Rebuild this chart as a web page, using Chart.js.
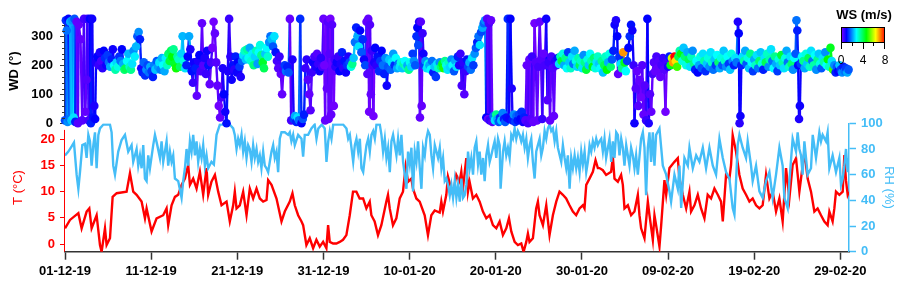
<!DOCTYPE html>
<html lang="en">
<head>
<meta charset="UTF-8">
<title>WD / WS / T / RH</title>
<style>
  body { margin: 0; background: #fff; }
  #wrap { position: relative; width: 906px; height: 287px; }
  #wrap canvas { position: absolute; left: 0; top: 0; }
</style>
</head>
<body>
<div id="wrap">
  <canvas id="metChart" width="906" height="287"></canvas>
  <canvas id="wdChart" width="906" height="140"></canvas>
</div>
<script src="https://cdn.jsdelivr.net/npm/chart.js"></script>
<script>
// x values are days since 01-12-19 00:00
var xTickDays = [0, 10, 20, 30, 40, 50, 60, 70, 80, 90];
var xTickLabels = ['01-12-19', '11-12-19', '21-12-19', '31-12-19', '10-01-20', '20-01-20', '30-01-20', '09-02-20', '19-02-20', '29-02-20'];
var wdTicks = [0, 100, 200, 300];
var tTicks = [0, 5, 10, 15, 20];
var rhTicks = [0, 20, 40, 60, 80, 100];
var wsTicks = [0, 4, 8];

// temperature (°C)
var tDay = [0, 0.58, 1.55, 1.93, 2.51, 2.82, 3.09, 3.67, 4.06, 4.25, 4.64, 4.83, 5.22, 5.53, 6.0, 7.15, 7.54, 7.92, 8.31, 8.89, 9.28, 9.47, 10.05, 10.63, 11.4, 11.79, 11.98, 12.37, 12.76, 13.14, 13.53, 13.92, 14.3, 14.5, 14.88, 15.27, 15.66, 16.04, 16.43, 16.62, 17.0, 17.4, 17.78, 18.17, 18.75, 19.13, 19.52, 19.71, 19.91, 20.29, 20.68, 21.07, 21.45, 21.84, 22.23, 22.61, 23.0, 23.39, 23.58, 23.97, 24.55, 25.13, 25.51, 26.09, 26.4, 26.67, 27.06, 27.45,
  27.64, 28.02, 28.41, 28.8, 29.18, 29.57, 29.96, 30.34, 30.54, 30.73, 31.12, 31.5, 31.89, 32.27, 32.66, 33.05, 33.43, 33.82, 34.2, 34.6, 34.98, 35.37, 35.56, 35.94, 36.33, 36.72, 37.3, 37.49, 37.69, 38.07, 38.46, 38.85, 39.23, 39.54, 39.82, 40.2, 40.39, 40.78, 41.17, 41.75, 42.13, 42.52, 42.91, 43.49, 43.68, 43.87, 44.26, 44.45, 45.03, 45.42, 45.8, 46.0, 46.19, 46.58, 46.77, 46.96, 47.35, 47.74, 48.13, 48.51, 48.9, 49.29, 49.67, 50.06, 50.45, 50.83, 51.22, 51.53, 51.8, 52.19, 52.57, 52.96, 53.23, 53.54, 53.73, 53.92, 54.31, 54.69, 54.89, 55.08, 55.47, 55.86, 56.24, 56.63, 57.02, 57.4, 57.79, 58.17, 58.56, 58.95, 59.33, 59.72, 60.11, 60.3, 60.5, 60.88, 61.27, 61.58, 61.85,
  62.04, 62.43, 62.81, 63.39, 63.59, 63.78, 64.17, 64.55, 64.75, 64.94, 65.33, 65.71, 66.1, 66.49, 66.68, 66.87, 67.26, 67.65, 67.84, 68.23, 68.42, 68.61, 69.0, 69.2, 69.58, 69.78, 70.16, 70.74, 71.13, 71.32, 71.71, 72.1, 72.48, 72.67, 73.06, 73.45, 73.83, 74.22, 74.6, 74.99, 75.38, 75.77, 76.15, 76.35, 76.73, 77.12, 77.31, 77.5, 77.89, 78.28, 78.66, 79.05, 79.44, 79.82, 80.21, 80.6, 80.98, 81.37, 81.76, 82.14, 82.53, 82.92, 83.3, 83.69, 84.08, 84.46, 84.85, 85.24, 85.82, 86.2, 86.59, 86.98, 87.36, 87.75, 88.14, 88.52, 88.72, 89.1, 89.3, 89.49, 89.88, 90.27, 90.46, 90.65, 90.85, 91.0];
var tVal = [3.0, 4.6, 5.9, 3.0, 6.2, 6.8, 3.0, 5.5, -0.2, -1.5, 3.0, -0.2, 1.1, 9.0, 9.7, 10.0, 13.5, 10.0, 9.4, 8.1, 4.9, 6.8, 2.4, 4.9, 5.5, 6.8, 3.6, 7.4, 9.0, 9.4, 11.3, 12.5, 15.1, 11.3, 12.5, 10.6, 13.8, 9.4, 14.5, 9.4, 11.9, 13.2, 10.0, 7.4, 8.1, 4.3, 7.4, 10.0, 6.8, 7.4, 10.0, 5.5, 10.6, 8.7, 10.6, 8.7, 8.1, 8.4, 12.2, 11.3, 8.7, 4.3, 6.2, 8.1, 9.7, 7.4, 5.5, 4.3,
  3.6, -0.2, 1.1, -0.8, 0.8, -0.5, 0.4, -0.8, 3.6, 0.4, 0.1, 0.1, 0.4, 0.8, 1.7, 5.5, 10.0, 10.0, 8.7, 8.7, 6.8, 8.1, 5.5, 4.3, 1.7, 3.6, 8.1, 9.4, 6.8, 3.6, 4.9, 8.7, 10.0, 14.8, 11.9, 12.5, 10.6, 8.7, 8.1, 5.5, 1.7, 5.5, 6.4, 6.0, 8.1, 6.2, 9.4, 12.9, 9.4, 13.2, 11.9, 13.8, 10.6, 16.4, 10.0, 11.9, 8.7, 9.4, 8.1, 6.2, 4.9, 5.5, 3.6, 3.0, 4.3, 1.7, 3.0, 4.9, 2.4, 0.4, -0.2, 0.1, -1.5, 0.4, 2.0, 0.4, 1.1, 6.8, 8.1, 5.5, 3.6, 7.4, 1.7, 5.5, 8.1, 10.0, 9.4, 8.7, 7.4, 6.2, 5.5, 6.8, 7.4, 6.8, 11.3, 12.5, 13.8, 16.0, 14.5,
  14.5, 14.1, 13.2, 13.8, 16.7, 12.5, 11.9, 13.2, 11.3, 6.8, 7.4, 5.5, 6.2, 9.4, 5.5, 3.0, 1.1, 8.1, 5.5, 0.8, 5.5, 3.6, -0.5, 3.6, 12.2, 9.4, 14.5, 15.7, 16.4, 12.5, 9.4, 6.8, 10.0, 6.2, 7.4, 9.4, 6.8, 4.9, 9.4, 8.7, 10.6, 9.4, 8.1, 4.3, 13.2, 12.5, 15.1, 20.8, 17.6, 13.2, 10.6, 9.4, 8.1, 8.7, 7.4, 6.8, 7.4, 13.2, 8.7, 10.0, 6.2, 8.7, 4.3, 14.5, 8.7, 15.1, 16.4, 10.0, 17.6, 12.5, 10.0, 6.2, 6.8, 5.5, 4.3, 3.6, 6.2, 4.3, 6.8, 10.0, 9.4, 10.0, 17.0, 12.1, 9.4, 10.0];

// relative humidity (%)
var rhDay = [0, 0.39, 0.77, 1.04, 1.35, 1.55, 1.74, 2.01, 2.32, 2.51, 2.71, 2.9, 3.09, 3.29, 3.48, 3.67, 3.87, 4.06, 4.45, 5.22, 5.41, 5.6, 5.8, 6.18, 6.57, 6.96, 7.34, 7.73, 7.92, 8.31, 8.5, 8.7, 8.89, 9.08, 9.28, 9.47, 9.66, 9.86, 10.24, 10.44, 10.71, 11.02, 11.21, 11.4, 11.79, 11.98, 12.18, 12.37, 12.56, 12.76, 13.14, 13.53, 13.72, 13.92, 14.11, 14.3, 14.5, 14.69, 14.88, 15.08, 15.27, 15.46, 15.66, 15.85, 16.04, 16.24, 16.43, 16.62, 17.0, 17.28, 17.59, 17.97, 19.13, 19.52, 19.71, 19.91, 20.1, 20.29, 20.49, 20.68, 20.87, 21.07, 21.26, 21.45, 21.65, 21.84, 22.03, 22.23, 22.42, 22.61, 22.8, 23.0, 23.19, 23.39, 23.58, 23.77, 23.97, 24.16, 24.35, 24.55, 24.74, 24.93, 25.13, 25.51, 25.9, 26.09, 26.28, 26.48, 26.67, 27.06, 27.45, 27.64, 27.83, 28.22, 28.6, 28.98, 29.19, 29.4, 29.8, 30.15, 30.35, 30.55,
  30.74, 30.93, 31.13, 32.29, 32.67, 32.87, 33.06, 33.25, 33.45, 33.64, 33.83, 34.03, 34.22, 34.41, 34.61, 34.8, 34.99, 35.19, 35.38, 35.57, 35.77, 35.96, 36.15, 36.54, 36.73, 36.92, 37.12, 37.31, 37.5, 37.7, 37.89, 38.08, 38.28, 38.47, 38.66, 38.86, 39.05, 39.24, 39.44, 39.63, 39.82, 40.02, 40.21, 40.4, 40.6, 40.79, 40.98, 41.18, 41.37, 41.56, 41.76, 41.95, 42.14, 42.34, 42.53, 42.72, 42.92, 43.11, 43.3, 43.5, 43.69, 43.88, 44.08, 44.27, 44.46, 44.66, 44.85, 45.04, 45.24, 45.43, 45.62, 45.82, 46.01, 46.2, 46.39, 46.59, 46.78, 46.97, 47.16, 47.36, 47.55, 47.74, 47.94, 48.13, 48.32, 48.52, 48.71, 48.9, 49.1, 49.29, 49.48, 49.68, 49.87, 50.06, 50.26, 50.45, 50.56, 50.84, 51.03, 51.22, 51.41, 51.61, 51.8, 51.99, 52.19, 52.38, 52.57, 52.77, 52.96, 53.15, 53.35, 53.54, 53.73, 53.93, 54.12, 54.31, 54.51, 54.7, 54.89, 55.09, 55.28, 55.47, 55.67, 55.86, 56.05, 56.25, 56.44, 56.63, 56.83, 57.02, 57.21, 57.6, 57.79, 57.99, 58.18, 58.37, 58.57, 58.76, 58.95, 59.15, 59.34, 59.53, 59.73, 59.92, 60.11, 60.31, 60.5, 60.69, 60.89, 61.08, 61.27, 61.46, 61.66, 61.85,
  62.04, 62.24, 62.43, 62.62, 62.81, 63.2, 63.4, 63.59, 63.78, 63.98, 64.17, 64.36, 64.56, 64.75, 64.94, 65.14, 65.33, 65.52, 65.71, 65.91, 66.1, 66.29, 66.49, 66.87, 67.07, 67.26, 67.45, 67.65, 67.84, 68.03, 68.23, 68.42, 68.61, 69.0, 69.2, 69.39, 69.78, 70.16, 70.35, 70.74, 71.13, 71.32, 71.52, 71.9, 72.29, 72.48, 72.87, 73.26, 73.64, 74.03, 74.41, 74.8, 75.19, 75.57, 75.96, 76.35, 76.73, 77.12, 77.5, 77.7, 77.89, 78.08, 78.28, 78.66, 79.05, 79.24, 79.63, 79.82, 80.21, 80.6, 80.98, 81.37, 81.76, 82.14, 82.53, 82.92, 83.3, 83.5, 83.88, 84.08, 84.46, 84.85, 85.04, 85.24, 85.43, 85.62, 85.82, 86.2, 86.59, 86.79, 87.17, 87.56, 87.75, 87.94, 88.33, 88.52, 88.72, 89.1, 89.49, 89.88, 90.07, 90.27, 90.46, 90.65, 90.85, 91.0];
var rhVal = [75, 78, 82, 85, 60, 49, 62, 83, 84, 73, 91, 86, 67, 83, 93, 65, 91, 96, 99, 99, 93, 67, 60, 78, 87, 91, 78, 83, 70, 80, 67, 75, 65, 83, 57, 55, 75, 65, 83, 91, 83, 73, 86, 70, 86, 67, 78, 70, 75, 57, 55, 42, 55, 65, 80, 67, 86, 78, 91, 75, 86, 70, 80, 73, 83, 67, 75, 65, 70, 68, 91, 99, 99, 96, 91, 80, 88, 83, 91, 78, 86, 73, 83, 80, 70, 83, 73, 80, 70, 75, 65, 78, 67, 65, 62, 70, 78, 83, 73, 78, 62, 88, 93, 93, 91, 93, 86, 91, 83, 91, 88, 74, 91, 91, 96, 99, 88, 96, 99, 96, 70, 86,
  94, 88, 99, 99, 96, 88, 91, 81, 70, 83, 88, 78, 88, 65, 62, 73, 83, 88, 78, 91, 94, 88, 99, 99, 91, 78, 88, 73, 81, 62, 86, 91, 83, 75, 88, 75, 91, 70, 60, 49, 78, 68, 81, 47, 78, 70, 86, 65, 49, 81, 75, 88, 94, 91, 75, 65, 83, 78, 73, 81, 65, 73, 55, 57, 52, 44, 52, 42, 55, 42, 52, 39, 57, 42, 44, 52, 78, 65, 73, 60, 81, 86, 68, 78, 60, 73, 55, 75, 83, 70, 75, 81, 86, 73, 88, 83, 49, 78, 86, 75, 81, 73, 91, 88, 96, 88, 94, 91, 86, 91, 81, 88, 73, 83, 88, 70, 57, 78, 83, 88, 75, 81, 94, 88, 96, 99, 94, 96, 86, 94, 81, 70, 83, 73, 65, 75, 49, 73, 65, 75, 65, 73, 62, 78, 68, 78, 62, 70, 83, 78, 86, 81, 88, 83,
  86, 88, 78, 88, 73, 88, 70, 86, 73, 93, 91, 75, 88, 81, 67, 83, 75, 67, 81, 75, 65, 75, 60, 88, 93, 81, 44, 81, 93, 70, 93, 67, 91, 96, 81, 67, 60, 47, 39, 60, 49, 67, 34, 73, 67, 81, 65, 75, 70, 81, 65, 81, 67, 60, 88, 73, 62, 57, 34, 29, 55, 83, 91, 81, 73, 86, 67, 55, 67, 47, 42, 55, 62, 42, 60, 81, 67, 42, 34, 55, 88, 78, 93, 80, 75, 60, 86, 60, 65, 91, 73, 93, 86, 91, 86, 93, 65, 75, 62, 73, 52, 57, 67, 80, 62, 73];

// wind direction (°) and wind speed (m/s), one entry per plotted point
var wdDay = [0.0, 0.1, 0.2, 0.3, 0.4, 0.5, 0.6, 0.75, 0.85, 1.0, 1.1, 1.2,
  1.35, 1.5, 1.6, 1.8, 2.0, 2.2, 2.35, 2.5, 2.6, 2.75,
  2.9, 3.0, 3.15, 3.3, 3.4, 3.5, 3.6,
  3.75, 3.9, 4.05, 4.2, 4.35, 4.5, 4.65, 4.8, 4.95, 5.1, 5.25, 5.4, 5.55,
  5.7, 5.85, 6.0, 6.15, 6.3, 6.45, 6.6, 6.75, 6.9, 7.05, 7.2, 7.35, 7.5, 7.65, 7.8, 7.95, 8.1, 8.25, 8.4, 8.55, 8.7,
  8.85, 9.0, 9.15, 9.3, 9.45, 9.6, 9.75, 9.9, 10.05, 10.2, 10.35, 10.5, 10.65, 10.8, 10.95, 11.1, 11.25, 11.4, 11.55, 11.7,
  11.85, 12.0, 12.15, 12.3, 12.45, 12.6, 12.75, 12.9, 13.05, 13.2, 13.35, 13.5, 13.65, 13.8, 13.95,
  14.1, 14.25, 14.4, 14.55, 14.7, 14.85, 15.0, 15.15, 15.3, 15.45, 15.6, 15.75, 15.9, 16.05, 16.2, 16.35, 16.5, 16.65, 16.8, 16.95, 17.1, 17.25, 17.4, 17.55, 17.7, 17.85, 18.0, 18.15, 18.3, 18.45, 18.6, 18.75, 18.9, 19.05, 19.2, 19.35, 19.5, 19.65, 19.8, 19.95, 20.1, 20.25, 20.4, 20.55,
  20.7, 20.85, 21.0, 21.15, 21.3, 21.45, 21.6, 21.75, 21.9, 22.05, 22.2, 22.35, 22.5, 22.65, 22.8, 22.95, 23.1, 23.25, 23.4, 23.55, 23.7, 23.85, 24.0, 24.15, 24.3, 24.45,
  24.6, 24.75, 24.9, 25.05, 25.2, 25.35, 25.5, 25.65, 25.8, 25.95, 26.1, 26.25,
  26.4, 26.55, 26.7, 26.85, 27.0, 27.15, 27.3, 27.45, 27.6, 27.75, 27.9,
  28.05, 28.2, 28.35, 28.5, 28.65, 28.8, 28.95, 29.1, 29.25, 29.4, 29.55, 29.7, 29.85,
  30.0, 30.1, 30.2, 30.3, 30.4, 30.5, 30.6, 30.7, 30.8, 30.9, 31.0, 31.1, 31.2, 31.3, 31.4,
  31.55, 31.7, 31.85, 32.0, 32.15, 32.3, 32.45, 32.6, 32.75, 32.9, 33.05,
  33.2, 33.35, 33.5, 33.65, 33.8, 33.95, 34.1, 34.25, 34.4, 34.55, 34.7, 34.85,
  35.0, 35.1, 35.2, 35.3, 35.4, 35.5, 35.6, 35.7, 35.8, 35.9, 36.0, 36.15, 36.3, 36.45,
  36.6, 36.75, 36.9, 37.05, 37.2, 37.35, 37.5, 37.65, 37.8, 37.95, 38.1, 38.25, 38.4, 38.55, 38.7,
  38.85, 39.0, 39.15, 39.3, 39.45, 39.6, 39.75, 39.9, 40.05, 40.2, 40.35, 40.5, 40.65,
  40.8, 40.9, 41.0, 41.1, 41.2, 41.3, 41.4, 41.5, 41.6, 41.7, 41.85, 42.0, 42.15,
  42.3, 42.45, 42.6, 42.75, 42.9, 43.05, 43.2, 43.35, 43.5, 43.65, 43.8, 43.95, 44.1, 44.25, 44.4, 44.55, 44.7, 44.85, 45.0, 45.15, 45.3, 45.45, 45.6,
  45.75, 45.9, 46.05, 46.2, 46.35, 46.5, 46.65, 46.8,
  46.95, 47.1, 47.25, 47.4, 47.55, 47.7, 47.85, 48.0, 48.15, 48.3, 48.45, 48.6, 48.75,
  48.9, 49.0, 49.1, 49.2, 49.3, 49.45, 49.6, 49.75, 49.9, 50.05, 50.2, 50.35, 50.5, 50.65, 50.8, 50.95, 51.1, 51.25, 51.4, 51.55, 51.7, 51.85, 51.95, 52.1, 52.25, 52.4, 52.55, 52.7, 52.85, 53.0, 53.15, 53.3,
  53.45, 53.6, 53.75, 53.9, 54.05, 54.2, 54.35, 54.5, 54.65, 54.8, 54.95, 55.1, 55.25, 55.4, 55.55, 55.7, 55.85, 56.0, 56.15, 56.3, 56.45, 56.6, 56.75, 56.9, 57.05, 57.2,
  57.35, 57.5, 57.65, 57.8, 57.95, 58.1, 58.25, 58.4, 58.55, 58.7, 58.85, 59.0, 59.15, 59.3, 59.45, 59.6, 59.75, 59.9, 60.05, 60.2, 60.35, 60.5, 60.65, 60.8, 60.95, 61.1, 61.25, 61.4, 61.55, 61.7, 61.85, 62.0,
  62.15, 62.3, 62.45, 62.6, 62.75, 62.9, 63.05, 63.2, 63.35, 63.5, 63.65, 63.8, 63.95, 64.1, 64.2, 64.35, 64.5, 64.65, 64.8, 64.95, 65.1,
  65.25, 65.4, 65.55, 65.7, 65.85, 66.0, 66.1, 66.25, 66.4, 66.55, 66.7, 66.85, 67.0, 67.15, 67.3, 67.45, 67.6, 67.75, 67.9, 68.05, 68.2,
  68.35, 68.5, 68.65, 68.8, 68.95, 69.1, 69.25, 69.4, 69.55, 69.7, 69.85, 70.0, 70.15,
  70.3, 70.45, 70.6, 70.75, 70.9, 71.05, 71.2,
  71.35, 71.5, 71.65, 71.8, 71.95, 72.1, 72.25, 72.4, 72.55, 72.7, 72.85, 73.0, 73.15, 73.3, 73.45, 73.6, 73.75, 73.9, 74.05, 74.2, 74.35, 74.5, 74.65, 74.8, 74.95, 75.1, 75.25, 75.4, 75.55, 75.7, 75.85, 76.0, 76.15, 76.3, 76.45, 76.6, 76.75, 76.9, 77.05, 77.2, 77.35, 77.5, 77.65, 77.8, 77.95,
  78.1, 78.2, 78.3, 78.4, 78.5,
  78.65, 78.8, 78.95, 79.1, 79.25, 79.4, 79.55, 79.7, 79.85, 80.0, 80.15, 80.3, 80.45, 80.6, 80.75, 80.9, 81.05, 81.2, 81.35, 81.5, 81.65, 81.8, 81.95, 82.1, 82.25, 82.4, 82.55, 82.7, 82.85, 83.0, 83.15, 83.3, 83.45, 83.6, 83.75, 83.9, 84.05, 84.2, 84.35, 84.5, 84.65, 84.8,
  84.9, 85.0, 85.1, 85.2, 85.3, 85.4,
  85.55, 85.7, 85.85, 86.0, 86.15, 86.3, 86.45, 86.6, 86.75, 86.9, 87.05, 87.2, 87.35, 87.5, 87.65, 87.8, 87.95, 88.1, 88.25, 88.4, 88.55, 88.7, 88.85, 89.0,
  89.15, 89.3, 89.45, 89.6, 89.75, 89.9, 90.05, 90.2, 90.35, 90.5, 90.65, 90.8, 90.95];
var wdDeg = [10, 355, 320, 5, 360, 15, 350, 10, 355, 20, 360, 5,
  350, 0, 340, 290, 10, 360, 40, 150, 360, 10,
  360, 0, 360, 20, 60, 15, 210,
  230, 200, 245, 215, 190, 250, 225, 200, 235, 210, 195, 220, 255,
  200, 185, 210, 195, 230, 215, 255, 205, 185, 190, 215, 240, 195, 185, 205, 250, 230, 265, 300, 315, 290,
  190, 175, 210, 165, 185, 200, 175, 195, 180, 160, 200, 185, 215, 195, 210, 185, 225, 200, 180, 225,
  200, 240, 215, 250, 230, 255, 205, 190, 230, 220, 195, 240, 300, 215, 190,
  200, 230, 300, 255, 180, 140, 210, 190, 95, 215, 235, 180, 345, 200, 225, 170, 250, 200, 135, 210, 260, 350, 310, 210, 130, 60, 20, 90, 190, 100, 40, 0, 180, 360, 230, 150, 200, 185, 230, 175, 210, 195, 160, 215,
  235, 250, 220, 255, 225, 260, 215, 240, 200, 230, 250, 205, 245, 270, 235, 210, 190, 240, 260, 230, 280, 300, 290, 265, 300, 245,
  215, 190, 230, 170, 100, 185, 200, 180, 195, 175, 360, 10,
  220, 15, 25, 5, 20, 10, 360, 0, 15, 30, 190,
  220, 150, 100, 45, 175, 210, 230, 195, 240, 205, 180, 225, 195,
  360, 200, 10, 355, 120, 350, 15, 240, 360, 30, 340, 180, 60, 220, 195,
  210, 230, 180, 205, 245, 190, 215, 175, 200, 230, 210,
  195, 205, 225, 280, 330, 300, 265, 320, 245, 290, 220, 200,
  350, 170, 360, 40, 340, 100, 250, 200, 25, 210, 260, 200, 230, 180,
  215, 250, 200, 170, 225, 130, 195, 220, 185, 210, 240, 200, 225, 190, 205,
  195, 210, 190, 205, 215, 195, 200, 185, 210, 195, 240, 215, 200,
  300, 330, 270, 350, 20, 350, 60, 310, 240, 200, 215, 190, 205,
  200, 185, 215, 175, 195, 160, 205, 190, 210, 195, 205, 190, 215, 200, 185, 210, 195, 220, 200, 180, 215, 195, 230,
  200, 240, 130, 210, 100, 180, 220, 195,
  210, 185, 225, 200, 240, 260, 280, 300, 270, 315, 330, 345, 355,
  20, 360, 15, 345, 10, 355, 5, 25, 10, 30, 15, 5, 20, 10, 35, 15, 5, 20, 360, 15, 360, 120, 10, 30, 5, 25, 10, 30, 15, 40, 5, 20,
  10, 200, 0, 220, 15, 230, 5, 345, 210, 10, 195, 350, 220, 15, 240, 200, 360, 80, 210, 10, 230, 190, 25, 215, 200, 225,
  205, 230, 215, 240, 200, 225, 190, 245, 210, 190, 230, 205, 250, 215, 195, 225, 200, 215, 190, 235, 210, 185, 220, 200, 240, 215, 195, 225, 190, 210, 230, 205,
  190, 215, 175, 200, 230, 185, 210, 240, 195, 220, 250, 340, 355, 300, 170, 230, 205, 190, 245, 210, 180,
  215, 260, 300, 340, 320, 200, 0, 120, 180, 60, 150, 90, 200, 30, 130, 10, 360, 0, 100, 40, 170,
  210, 180, 230, 190, 215, 160, 200, 225, 185, 40, 210, 195, 230,
  200, 225, 210, 230, 215, 195, 230,
  250, 240, 215, 260, 230, 200, 245, 220, 195, 230, 250, 205, 185, 215, 175, 200, 230, 190, 240, 215, 180, 205, 225, 195, 245, 210, 185, 220, 200, 235, 210, 190, 225, 200, 250, 215, 195, 230, 205, 185, 240, 215, 200, 225, 210,
  350, 310, 0, 25, 200,
  230, 215, 250, 205, 225, 190, 240, 210, 180, 220, 200, 235, 190, 215, 245, 205, 185, 225, 210, 240, 195, 220, 255, 215, 190, 230, 205, 180, 220, 200, 235, 210, 190, 225, 250, 210, 195, 230, 205, 185, 225, 240,
  355, 320, 200, 15, 60, 205,
  230, 215, 190, 240, 205, 225, 195, 250, 215, 200, 235, 185, 220, 240, 205, 190, 225, 210, 245, 200, 220, 195, 260, 215,
  185, 200, 175, 195, 180, 200, 185, 175, 195, 180, 190, 175, 185];
var wsVal = [1.5, 1.3, 1.8, 2.0, 1.0, 1.8, 2.2, 2.4, 2.0, 2.6, 1.6, 1.2,
  0.3, 0.4, 0.3, 0.3, 0.4, 0.5, 0.3, 0.4, 0.6, 0.5,
  1.0, 1.2, 0.9, 1.1, 0.8, 1.0, 0.8,
  1.0, 0.6, 0.8, 0.5, 0.7, 1.0, 1.3, 0.9, 1.4, 1.8, 2.2, 1.2, 0.9,
  2.8, 3.4, 2.5, 3.0, 1.3, 1.8, 1.0, 2.2, 3.8, 4.0, 2.8, 2.3, 3.2, 3.6, 2.6, 2.0, 2.7, 2.3, 1.6, 2.0, 1.2,
  0.8, 1.2, 1.7, 1.3, 2.0, 1.5, 1.8, 2.2, 1.4, 1.2, 1.9, 2.4, 1.6, 2.1, 2.6, 1.9, 2.3, 2.8, 2.2, 2.7,
  3.2, 3.8, 4.2, 4.0, 4.6, 3.6, 4.3, 4.7, 3.5, 3.2, 3.9, 2.5, 2.3, 3.0, 2.6,
  1.2, 1.0, 2.2, 0.8, 1.1, 0.6, 0.9, 1.2, 0.3, 0.8, 1.0, 0.5, 0.3, 0.4, 0.8, 0.6, 0.9, 1.1, 0.3, 0.5, 0.2, 0.2, 0.3, 0.4, 0.3, 0.2, 0.3, 0.5, 0.8, 1.0, 0.9, 1.1, 0.8, 0.6, 0.7, 0.9, 1.1, 0.7, 1.2, 0.9, 1.0, 1.4, 0.8, 1.7,
  2.6, 3.2, 2.4, 3.5, 2.9, 2.2, 3.1, 2.7, 3.7, 2.5, 3.3, 2.1, 2.8, 3.0, 3.6, 4.3, 4.0, 2.4, 2.8, 3.1, 2.0, 1.8, 2.3, 1.6, 2.6, 1.1,
  0.5, 0.4, 0.6, 0.3, 0.3, 0.5, 1.4, 1.8, 1.2, 1.6, 0.3, 0.5,
  0.8, 1.4, 2.2, 1.2, 2.6, 1.8, 1.3, 1.0, 1.6, 1.2, 0.6,
  0.7, 0.4, 0.3, 0.4, 0.6, 0.9, 0.5, 0.8, 0.4, 0.6, 0.9, 0.7, 0.5,
  0.3, 0.2, 0.3, 0.2, 0.3, 0.4, 0.3, 0.4, 0.2, 0.3, 0.4, 0.3, 0.2, 0.5, 0.7,
  0.9, 0.6, 1.0, 0.8, 1.2, 0.7, 1.1, 0.9, 1.3, 0.8, 1.5,
  3.0, 3.6, 2.4, 1.8, 1.2, 2.2, 2.6, 1.0, 1.6, 1.3, 0.9, 1.5,
  0.3, 0.4, 0.3, 0.2, 0.4, 0.3, 0.6, 0.5, 0.2, 0.8, 1.0, 0.7, 1.1, 1.3,
  1.4, 1.0, 1.8, 1.2, 2.0, 0.9, 1.6, 2.4, 1.7, 2.6, 2.1, 1.3, 2.8, 2.2, 1.8,
  2.6, 3.0, 2.4, 3.4, 2.8, 3.2, 2.2, 3.6, 2.9, 2.5, 1.4, 2.0, 1.6,
  1.3, 1.0, 1.5, 0.8, 0.3, 0.4, 0.3, 0.6, 0.9, 1.4, 2.0, 2.6, 3.0,
  2.2, 2.8, 1.8, 1.2, 2.4, 1.4, 2.6, 3.2, 2.0, 3.7, 4.4, 4.8, 3.6, 3.0, 2.6, 3.3, 2.5, 2.0, 2.8, 1.6, 2.2, 2.6, 1.2,
  0.8, 0.6, 0.5, 0.7, 0.4, 0.6, 1.1, 1.5,
  2.2, 1.8, 2.6, 1.4, 2.0, 1.6, 1.2, 1.8, 2.6, 1.5, 2.2, 1.7, 2.0,
  1.0, 0.4, 0.3, 0.5, 0.6, 0.3, 0.4, 1.8, 2.6, 3.6, 2.2, 1.6, 1.3, 2.4, 1.9, 1.2, 1.6, 1.1, 1.3, 0.9, 1.0, 0.8, 1.2, 2.0, 1.4, 1.7, 1.1, 1.5, 1.0, 1.3, 0.9, 1.2,
  0.4, 0.3, 0.5, 0.3, 0.4, 0.6, 0.3, 0.2, 0.4, 0.3, 0.5, 0.3, 0.4, 0.6, 0.3, 0.5, 0.9, 0.4, 0.6, 0.3, 0.5, 0.4, 0.3, 0.7, 0.5, 1.1,
  2.6, 3.4, 4.2, 3.0, 2.2, 3.6, 2.8, 1.4, 2.4, 3.2, 2.6, 1.8, 2.2, 3.0, 2.5, 3.4, 4.0, 3.2, 2.6, 2.0, 3.6, 4.2, 3.0, 2.4, 2.8, 3.4, 4.5, 3.8, 3.0, 2.6, 3.2, 2.4,
  2.8, 3.6, 2.4, 4.0, 3.2, 4.6, 2.2, 3.0, 3.8, 1.6, 1.2, 0.9, 0.8, 1.0, 0.3, 1.3, 2.6, 3.6, 7.0, 4.4, 2.8,
  1.4, 1.0, 1.3, 1.1, 0.9, 0.6, 0.9, 0.4, 0.3, 0.4, 0.3, 0.2, 0.4, 0.3, 0.4, 0.6, 1.0, 0.8, 0.4, 0.3, 0.5,
  0.4, 0.3, 0.5, 0.3, 0.4, 0.3, 0.5, 0.6, 0.4, 0.2, 0.5, 0.8, 1.2,
  4.5, 6.0, 7.0, 8.0, 6.5, 5.0, 4.0,
  3.4, 4.5, 3.0, 2.4, 3.8, 3.0, 2.2, 4.0, 2.6, 3.3, 2.0, 3.6, 1.2, 2.8, 1.0, 2.2, 3.0, 1.6, 2.6, 3.4, 1.3, 2.4, 3.0, 2.0, 2.6, 3.2, 1.8, 2.4, 1.4, 2.8, 3.8, 2.2, 3.0, 1.6, 2.4, 3.2, 2.0, 2.8, 1.4, 2.4, 3.0, 2.0, 1.2, 2.6, 1.8,
  0.8, 1.0, 0.7, 0.9, 1.2,
  2.6, 3.4, 2.2, 1.6, 3.0, 2.4, 3.6, 2.8, 1.4, 2.2, 3.2, 2.6, 1.8, 3.8, 2.4, 3.0, 1.2, 2.6, 4.0, 3.2, 2.0, 3.4, 2.6, 1.8, 2.8, 3.6, 2.2, 1.4, 3.0, 2.4, 4.2, 3.4, 2.6, 3.0, 2.2, 1.8, 3.2, 2.6, 3.8, 2.0, 2.8, 1.6,
  1.8, 1.2, 1.0, 0.8, 0.9, 1.4,
  2.8, 3.6, 2.2, 3.0, 2.4, 4.0, 3.2, 2.6, 1.8, 3.4, 2.8, 2.0, 3.6, 2.4, 3.0, 1.6, 2.6, 3.4, 2.0, 2.8, 4.6, 3.2, 4.4, 2.6,
  5.0, 2.0, 1.2, 1.6, 1.0, 2.4, 1.4, 2.0, 1.2, 1.8, 1.4, 2.2, 1.6];

// colour scale for wind speed
var wsMax = 8;
var wsStops = [[0, [140, 0, 255]], [1.0, [0, 0, 255]], [2.8, [0, 255, 255]], [4.6, [0, 255, 0]], [6.3, [255, 255, 0]], [8, [255, 0, 0]]];

var FONT = "'Liberation Sans', Arial, sans-serif";
var RED = '#ff0000';
var RH_BLUE = '#44bdf7';
var AXIS = '#333333';

function wsColor(v) {
    if (v == null || isNaN(v)) v = 0;
    v = Math.max(0, Math.min(wsMax, v));
    for (var i = 1; i < wsStops.length; i++) {
        var a = wsStops[i - 1], b = wsStops[i];
        if (v <= b[0]) {
            var f = (v - a[0]) / (b[0] - a[0]);
            var c = a[1].map(function (c0, k) { return Math.round(c0 + (b[1][k] - c0) * f); });
            return 'rgb(' + c.join(',') + ')';
        }
    }
    return 'rgb(255,0,0)';
}

function pairs(xs, ys) {
    return xs.map(function (x, i) { return { x: x, y: ys[i] }; });
}

// colour bar legend (top right) + minor ticks on WD axis
var colorBarPlugin = {
    id: 'colorBar',
    afterDraw: function (chart) {
        var ctx = chart.ctx;
        var x0 = 841, x1 = 885, y0 = 27, y1 = 43;
        ctx.save();
        var g = ctx.createLinearGradient(x0, 0, x1, 0);
        wsStops.forEach(function (s) {
            g.addColorStop(s[0] / wsMax, 'rgb(' + s[1].join(',') + ')');
        });
        ctx.fillStyle = g;
        ctx.fillRect(x0, y0, x1 - x0, y1 - y0);
        ctx.strokeStyle = '#000';
        ctx.lineWidth = 1;
        ctx.strokeRect(x0 + 0.5, y0 + 0.5, x1 - x0 - 1, y1 - y0 - 1);
        // ticks every 2 m/s, labelled every 4
        for (var w = 0; w <= wsMax; w += 2) {
            var x = Math.round(x0 + (x1 - x0 - 1) * w / wsMax) + 0.5;
            ctx.beginPath();
            ctx.moveTo(x, y1);
            ctx.lineTo(x, y1 + (w % 4 === 0 ? 6 : 3));
            ctx.stroke();
        }
        ctx.fillStyle = '#000';
        ctx.font = '12px ' + FONT;
        ctx.textAlign = 'center';
        ctx.textBaseline = 'middle';
        wsTicks.forEach(function (w) {
            ctx.fillText(String(w), x0 + (x1 - x0) * w / wsMax, 61);
        });
        ctx.font = 'bold 13px ' + FONT;
        ctx.fillText('WS (m/s)', 864, 15);

        var y = chart.scales.y;
        ctx.strokeStyle = AXIS;
        ctx.lineWidth = 1;
        for (var d = 20; d < 360; d += 20) {
            if (d % 100 === 0) continue;
            var py = Math.round(y.getPixelForValue(d)) + 0.5;
            ctx.beginPath();
            ctx.moveTo(y.right - 3, py);
            ctx.lineTo(y.right, py);
            ctx.stroke();
        }
        ctx.restore();
    }
};

// T axis line only runs up to about 21 °C
var tAxisPlugin = {
    id: 'tAxisLine',
    afterDraw: function (chart) {
        var t = chart.scales.t;
        var ctx = chart.ctx;
        ctx.save();
        ctx.strokeStyle = RED;
        ctx.lineWidth = 1;
        ctx.beginPath();
        ctx.moveTo(t.right - 0.5, t.getPixelForValue(21.8));
        ctx.lineTo(t.right - 0.5, chart.chartArea.bottom);
        ctx.stroke();
        ctx.restore();
    }
};

var metChart = new Chart(document.getElementById('metChart'), {
    type: 'line',
    data: {
        datasets: [{
            label: 'RH',
            data: pairs(rhDay, rhVal),
            yAxisID: 'rh',
            borderColor: RH_BLUE,
            borderWidth: 2.4,
            pointRadius: 0,
            tension: 0,
            order: 0
        }, {
            label: 'T',
            data: pairs(tDay, tVal),
            yAxisID: 't',
            borderColor: RED,
            borderWidth: 2.4,
            pointRadius: 0,
            tension: 0,
            order: 1
        }]
    },
    options: {
        responsive: false,
        animation: false,
        events: [],
        layout: { padding: { top: 123.3, left: 0, right: 0, bottom: 0 } },
        plugins: { legend: { display: false }, tooltip: { enabled: false } },
        scales: {
            x: {
                type: 'linear',
                min: 0,
                max: 91,
                afterFit: function (s) { s.height = 35.3; },
                afterBuildTicks: function (s) { s.ticks = xTickDays.map(function (v) { return { value: v }; }); },
                ticks: {
                    autoSkip: false,
                    maxRotation: 0,
                    padding: 4,
                    color: '#000',
                    font: { family: FONT, size: 13, weight: 'bold' },
                    callback: function (v) { return xTickLabels[xTickDays.indexOf(v)]; }
                },
                grid: { drawOnChartArea: false, tickLength: 8, color: AXIS, tickWidth: 1.5 },
                border: { color: AXIS, width: 1.5 }
            },
            t: {
                position: 'left',
                min: -1.47,
                max: 23.06,
                afterFit: function (s) { s.width = 65; },
                afterBuildTicks: function (s) { s.ticks = tTicks.map(function (v) { return { value: v }; }); },
                ticks: { color: RED, padding: 5, font: { family: FONT, size: 13, weight: 'bold' } },
                grid: { drawOnChartArea: false, tickLength: 5, color: RED },
                border: { display: false },
                title: { display: true, text: 'T (°C)', color: RED, padding: { top: 11, bottom: 0 }, font: { family: FONT, size: 13 } }
            },
            rh: {
                position: 'right',
                min: 0,
                max: 100,
                afterFit: function (s) { s.width = 57; },
                afterBuildTicks: function (s) { s.ticks = rhTicks.map(function (v) { return { value: v }; }); },
                ticks: { color: RH_BLUE, padding: 5, font: { family: FONT, size: 13, weight: 'bold' } },
                grid: { drawOnChartArea: false, tickLength: 7, color: RH_BLUE, tickWidth: 1.5 },
                border: { color: RH_BLUE, width: 1.5 },
                title: { display: true, text: 'RH (%)', color: RH_BLUE, padding: { top: 10, bottom: 0 }, font: { family: FONT, size: 13 } }
            }
        }
    },
    plugins: [tAxisPlugin]
});

var wdChart = new Chart(document.getElementById('wdChart'), {
    type: 'line',
    data: {
        datasets: [{
            label: 'WD',
            data: pairs(wdDay, wdDeg),
            showLine: true,
            tension: 0,
            borderWidth: 2.4,
            borderColor: '#0000ff',
            segment: {
                borderColor: function (ctx) { return wsColor(wsVal[ctx.p0DataIndex]); }
            },
            pointRadius: 4.3,
            pointBorderWidth: 0,
            pointBackgroundColor: wsVal.map(wsColor),
            pointBorderColor: wsVal.map(wsColor),
            clip: false
        }]
    },
    options: {
        responsive: false,
        animation: false,
        events: [],
        layout: { padding: { left: 0, right: 57, top: 18.9, bottom: 16.7 } },
        plugins: { legend: { display: false }, tooltip: { enabled: false } },
        scales: {
            x: { type: 'linear', display: false, min: 0, max: 91 },
            y: {
                min: 0,
                max: 360,
                afterFit: function (s) { s.width = 65; },
                afterBuildTicks: function (s) { s.ticks = wdTicks.map(function (v) { return { value: v }; }); },
                ticks: { color: '#000', padding: 7, font: { family: FONT, size: 13, weight: 'bold' } },
                grid: { drawOnChartArea: false, tickLength: 5, color: AXIS },
                border: { color: AXIS, width: 1.5 },
                title: { display: true, text: 'WD (°)', color: '#000', padding: { top: 7, bottom: 0 }, font: { family: FONT, size: 13, weight: 'bold' } }
            }
        }
    },
    plugins: [colorBarPlugin]
});
</script>
</body>
</html>
